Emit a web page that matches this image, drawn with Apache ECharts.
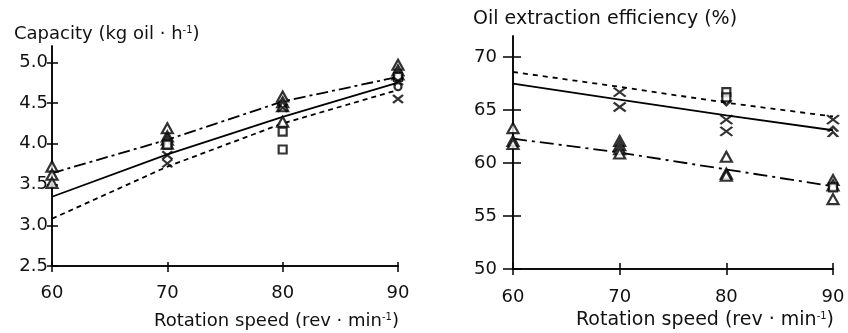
<!DOCTYPE html>
<html>
<head>
<meta charset="utf-8">
<script src="https://cdn.jsdelivr.net/npm/echarts@6/dist/echarts.min.js"></script>
<style>
html, body { margin: 0; padding: 0; background: #fff; }
#chart { width: 848px; height: 333px; }
</style>
</head>
<body>
<div id="chart"></div>
<script>
// rotation speed (rev/min)
const speeds = [60, 70, 80, 90];
const capTicks = [2.5, 3.0, 3.5, 4.0, 4.5, 5.0];
const effTicks = [50, 55, 60, 65, 70];

// capacity panel - fitted lines
const capDashDot = [3.64, 4.05, 4.52, 4.82];
const capSolid = [3.35, 3.87, 4.33, 4.75];
const capDotted = [3.08, 3.72, 4.25, 4.66];

// capacity panel - measured points
const capTriangles = [[60, 3.72], [60, 3.62], [60, 3.52], [70, 4.19], [70, 4.09], [70, 4.05], [70, 4.00],
  [80, 4.58], [80, 4.51], [80, 4.46], [80, 4.27], [90, 4.97], [90, 4.90], [90, 4.85]];
const capSquares = [[70, 3.99], [80, 4.15], [80, 3.93], [90, 4.82]];
const capCrosses = [[70, 3.86], [70, 3.76], [80, 4.44], [90, 4.77], [90, 4.55]];
const capCircles = [[90, 4.70]];

// extraction efficiency panel - fitted lines
const effDashed = [68.6, 67.2, 65.7, 64.4];
const effSolid = [67.5, 66.0, 64.5, 63.1];
const effDashDot = [62.3, 61.0, 59.4, 57.8];

// extraction efficiency panel - measured points
const effTriangles = [[60, 63.3], [60, 62.1], [60, 61.8], [70, 62.1], [70, 61.7], [70, 61.3], [70, 60.9],
  [80, 60.6], [80, 59.0], [80, 58.8], [90, 58.4], [90, 57.9], [90, 56.6]];
const effCrosses = [[70, 66.7], [70, 65.3], [80, 64.1], [80, 63.0], [90, 64.1]];
const effSquares = [[80, 66.7], [80, 66.2], [90, 57.7]];
const effCaretsUp = [[90, 63.2], [90, 62.7]];
const effCaretsDown = [[80, 65.7]];

const font = 'DejaVu Sans, Verdana, sans-serif';
const ink = '#000';
const textInk = '#111';

const chart = echarts.init(document.getElementById('chart'));

const crossPath = 'path://M0,0L10,10M10,0L0,10';
const caretUpPath = 'path://M0,6L5,0L10,6';
const caretDownPath = 'path://M0,0L5,6L10,0';

const toPairs = (vals) => speeds.map((s, i) => [s, vals[i]]);

// two overlaid axes per side so the ticks cross the axis line
const makeX = (gridIndex, outLen, inLen, margin) => [
  {
    type: 'value', gridIndex: gridIndex, min: 60, max: 90, interval: 10, position: 'bottom',
    axisLine: { onZero: false, lineStyle: { color: ink, width: 1.5 } },
    axisTick: { length: outLen, lineStyle: { color: ink, width: 1.5 } },
    axisLabel: { margin: margin, fontSize: 18, color: textInk, fontFamily: font },
    splitLine: { show: false }
  },
  {
    type: 'value', gridIndex: gridIndex, min: 60, max: 90, interval: 10, position: 'bottom',
    axisLine: { onZero: false, lineStyle: { color: ink, width: 1.5 } },
    axisTick: { inside: true, length: inLen, lineStyle: { color: ink, width: 1.5 } },
    axisLabel: { show: false },
    splitLine: { show: false }
  }
];

const makeY = (gridIndex, min, max, ticks, outLen, inLen, margin) => [
  {
    type: 'value', gridIndex: gridIndex, min: min, max: max, position: 'left',
    axisLine: { onZero: false, lineStyle: { color: ink, width: 1.5 } },
    axisTick: { length: outLen, customValues: ticks, lineStyle: { color: ink, width: 1.5 } },
    axisLabel: { margin: margin, customValues: ticks, fontSize: 18, color: textInk, fontFamily: font,
      formatter: (v) => (max < 10 ? v.toFixed(1) : String(v)) },
    splitLine: { show: false }
  },
  {
    type: 'value', gridIndex: gridIndex, min: min, max: max, position: 'left',
    axisLine: { onZero: false, lineStyle: { color: ink, width: 1.5 } },
    axisTick: { inside: true, length: inLen, customValues: ticks, lineStyle: { color: ink, width: 1.5 } },
    axisLabel: { show: false },
    splitLine: { show: false }
  }
];

const lineSeries = (xi, yi, vals, type) => ({
  type: 'line', xAxisIndex: xi, yAxisIndex: yi, data: toPairs(vals), symbol: 'none', z: 2,
  lineStyle: { color: ink, width: 1.8, type: type }
});

const pointSeries = (xi, yi, data, symbol, size) => ({
  type: 'scatter', xAxisIndex: xi, yAxisIndex: yi, data: data, symbol: symbol, symbolSize: size, z: 3,
  itemStyle: { color: symbol.startsWith('path') ? 'rgba(0,0,0,0)' : '#fff', borderColor: ink, borderWidth: 2.2 }
});

const richOf = (size) => ({
  n: { fontSize: size, fontWeight: 'normal', color: textInk, fontFamily: font },
  s: { fontSize: 10, fontWeight: 'normal', color: textInk, fontFamily: font, verticalAlign: 'top' }
});

const option = {
  backgroundColor: '#fff',
  animation: false,
  title: [
    { text: '{n|Capacity (kg oil · h}{s|-1}{n|)}', left: 14, top: 25, padding: 0, textStyle: { rich: richOf(18) } },
    { text: '{n|Rotation speed (rev · min}{s|-1}{n|)}', left: 154, top: 312, padding: 0, textStyle: { rich: richOf(18) } },
    { text: '{n|Oil extraction efficiency (%)}', left: 473, top: 10, padding: 0, textStyle: { rich: richOf(19) } },
    { text: '{n|Rotation speed (rev · min}{s|-1}{n|)}', left: 576, top: 311, padding: 0, textStyle: { rich: richOf(19) } }
  ],
  grid: [
    { left: 52, top: 46, width: 346, height: 220, outerBoundsMode: 'none' },
    { left: 513, top: 36, width: 320, height: 233, outerBoundsMode: 'none' }
  ],
  xAxis: [].concat(makeX(0, 6, 4, 18), makeX(1, 6, 6, 19)),
  yAxis: [].concat(makeY(0, 2.5, 5.2, capTicks, 5, 6, 4), makeY(1, 50, 72, effTicks, 10, 8, 16)),
  series: [
    lineSeries(0, 0, capDashDot, [12, 4, 3, 4]),
    lineSeries(0, 0, capSolid, 'solid'),
    lineSeries(0, 0, capDotted, [5, 4]),
    pointSeries(0, 0, capTriangles, 'triangle', [11, 10]),
    pointSeries(0, 0, capSquares, 'rect', [8, 8]),
    pointSeries(0, 0, capCrosses, crossPath, [10, 8]),
    pointSeries(0, 0, capCircles, 'circle', 7),

    lineSeries(2, 2, effDashed, [5, 5]),
    lineSeries(2, 2, effSolid, 'solid'),
    lineSeries(2, 2, effDashDot, [14, 5, 3, 5]),
    pointSeries(2, 2, effTriangles, 'triangle', [11, 10]),
    pointSeries(2, 2, effCrosses, crossPath, [12, 9]),
    pointSeries(2, 2, effSquares, 'rect', [8, 8]),
    pointSeries(2, 2, effCaretsUp, caretUpPath, [10, 5]),
    pointSeries(2, 2, effCaretsDown, caretDownPath, [10, 5])
  ]
};

chart.setOption(option);
</script>
</body>
</html>
